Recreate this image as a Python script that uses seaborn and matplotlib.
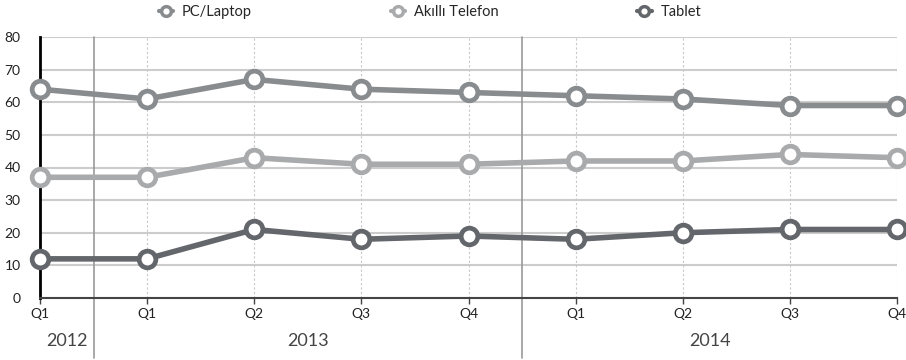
import matplotlib
matplotlib.use("Agg")
import matplotlib.pyplot as plt
from matplotlib.lines import Line2D
import seaborn as sns
import pandas as pd

quarters = ["Q1", "Q1", "Q2", "Q3", "Q4", "Q1", "Q2", "Q3", "Q4"]
years = ["2012", "2013", "2014"]
series_names = ["PC/Laptop", "Akıllı Telefon", "Tablet"]
pc_laptop = [64, 61, 67, 64, 63, 62, 61, 59, 59]
akilli_telefon = [37, 37, 43, 41, 41, 42, 42, 44, 43]
tablet = [12, 12, 21, 18, 19, 18, 20, 21, 21]

colors = {"PC/Laptop": "#898c8f", "Akıllı Telefon": "#a9aaac", "Tablet": "#63666a"}

rows = []
for name, vals in zip(series_names, [pc_laptop, akilli_telefon, tablet]):
    for i, v in enumerate(vals):
        rows.append({"idx": i, "value": v, "series": name})
df = pd.DataFrame(rows)

sns.set_theme(style="white")
plt.rcParams["font.family"] = ["Lato", "DejaVu Sans"]

fig = plt.figure(figsize=(9.06, 3.6), dpi=100)
ax = fig.add_axes([40 / 906, 1 - 298 / 360, (897 - 40) / 906, (298 - 37) / 360])

# grid
for yv in range(10, 90, 10):
    ax.axhline(yv, color="#cccccc", lw=1.5, zorder=0)
for i in range(1, len(quarters)):
    ax.axvline(i, color="#c8c8c8", lw=0.8, ls=(0, (2, 2)), zorder=0)

sns.lineplot(data=df, x="idx", y="value", hue="series", palette=colors,
             hue_order=series_names, marker="o", markersize=12,
             markerfacecolor="white", markeredgewidth=3.4, lw=4,
             legend=False, ax=ax, sort=False, clip_on=False, zorder=3)
for ln in ax.lines:
    if ln.get_marker() == "o":
        ln.set_markeredgecolor(ln.get_color())
        ln.set_clip_on(False)

ax.set_xlim(0, len(quarters) - 1)
ax.set_ylim(0, 80)
ax.set_yticks(range(0, 90, 10))
ax.set_xticks(range(len(quarters)))
ax.set_xticklabels(quarters)
ax.set_xlabel("")
ax.set_ylabel("")
ax.tick_params(axis="y", length=0, labelsize=10, colors="#222222", pad=14)
ax.tick_params(axis="x", length=4, width=1, color="#444444", labelsize=10,
               labelcolor="#222222", pad=3, bottom=True)
for lab in ax.get_yticklabels():
    lab.set_horizontalalignment("right")

for s in ["top", "right"]:
    ax.spines[s].set_visible(False)
ax.spines["left"].set_color("#000000")
ax.spines["left"].set_linewidth(2)
ax.spines["bottom"].set_color("#444444")
ax.spines["bottom"].set_linewidth(1.5)

# year separators
for sep in [0.5, 4.5]:
    ax.axvline(sep, ymin=-0.23, ymax=1, color="#999999", lw=1.2, clip_on=False, zorder=1)

# year labels
year_pos = [0.25, (0.5 + 4.5) / 2, (4.5 + 8) / 2]
for yr, xp in zip(years, year_pos):
    ax.text(xp, -0.165, yr, transform=ax.get_xaxis_transform(), ha="center",
            va="center", fontsize=13, color="#444444", fontweight="normal")

handles = [Line2D([0], [0], color=colors[n], lw=3, marker="o", markersize=7,
                  markerfacecolor="white", markeredgewidth=2.5,
                  markeredgecolor=colors[n]) for n in series_names]
ax.legend(handles, series_names, ncol=3, loc="lower center",
          bbox_to_anchor=(0.455, 1.02), frameon=False, fontsize=10.5,
          handlelength=1.0, columnspacing=9.5, handletextpad=0.6)

fig.savefig("out.png", dpi=100)
